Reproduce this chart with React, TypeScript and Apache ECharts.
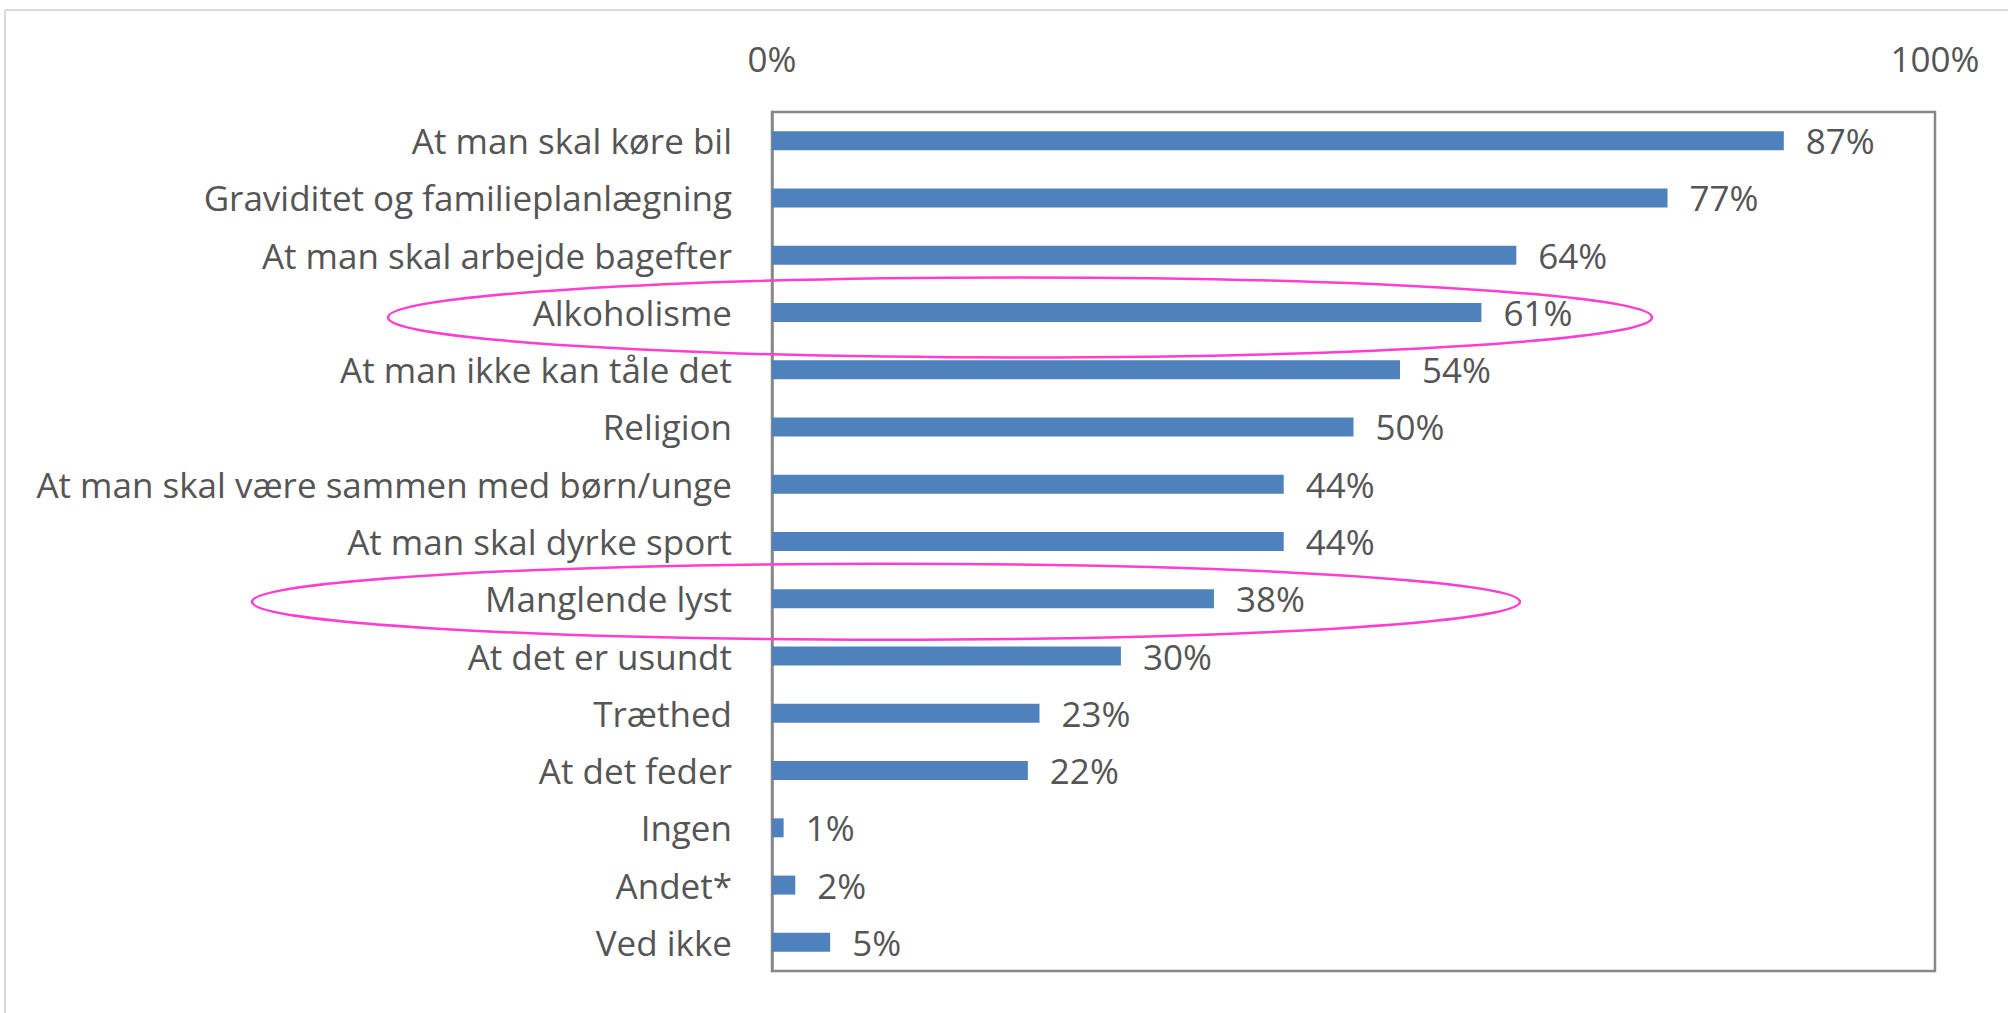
import React, { useEffect, useRef } from "react";
import * as echarts from "echarts";

const categories: string[] = [
  "At man skal køre bil",
  "Graviditet og familieplanlægning",
  "At man skal arbejde bagefter",
  "Alkoholisme",
  "At man ikke kan tåle det",
  "Religion",
  "At man skal være sammen med børn/unge",
  "At man skal dyrke sport",
  "Manglende lyst",
  "At det er usundt",
  "Træthed",
  "At det feder",
  "Ingen",
  "Andet*",
  "Ved ikke",
];

const values: number[] = [87, 77, 64, 61, 54, 50, 44, 44, 38, 30, 23, 22, 1, 2, 5];

const axisMin = 0;
const axisMax = 100;
const axisInterval = 100;

const highlighted: string[] = ["Alkoholisme", "Manglende lyst"];

const FONT = "'Open Sans', 'Noto Sans', sans-serif";
const TEXT = "#555555";
const FS = 35;

export default function App() {
  const ref = useRef<HTMLDivElement>(null);

  useEffect(() => {
    if (!ref.current) return;
    const chart = echarts.init(ref.current, undefined, { renderer: "svg" });
    chart.setOption({
      animation: false,
      backgroundColor: "#ffffff",
      textStyle: { fontFamily: FONT },
      grid: {
        left: 772,
        top: 112,
        width: 1163,
        height: 859,
        show: true,
        borderColor: "#878787",
        borderWidth: 2.5,
        outerBoundsMode: "none",
        containLabel: false,
      },
      xAxis: {
        type: "value",
        position: "top",
        min: axisMin,
        max: axisMax,
        interval: axisInterval,
        axisLine: { show: false },
        axisTick: { show: false },
        splitLine: { show: false },
        axisLabel: {
          formatter: "{value}%",
          color: TEXT,
          fontSize: FS,
          fontFamily: FONT,
          margin: 36,
        },
      },
      yAxis: {
        type: "category",
        inverse: true,
        data: categories,
        axisLine: { show: true, lineStyle: { color: "#878787", width: 2.5 } },
        axisTick: { show: false },
        splitLine: { show: false },
        axisLabel: {
          color: TEXT,
          fontSize: FS,
          fontFamily: FONT,
          margin: 40,
        },
      },
      series: [
        {
          type: "bar",
          data: values,
          barWidth: 19,
          itemStyle: { color: "#4F81BD" },
          label: {
            show: true,
            position: "right",
            distance: 22,
            formatter: "{c}%",
            color: TEXT,
            fontSize: FS,
            fontFamily: FONT,
          },
        },
      ],
    });

    const ellipseDefs = [
      { name: highlighted[0], cx: 1020, dy: 5, rx: 632, ry: 40 },
      { name: highlighted[1], cx: 886, dy: 3, rx: 634, ry: 38 },
    ];
    const ellipses = ellipseDefs.map((e) => {
      const cy = chart.convertToPixel({ yAxisIndex: 0 }, e.name) as number;
      return {
        type: "ellipse",
        shape: { cx: e.cx, cy: cy + e.dy, rx: e.rx, ry: e.ry },
        style: { fill: "none", stroke: "#FF3DD0", lineWidth: 2.5 },
        z: 100,
        silent: true,
      };
    });

    chart.setOption({
      graphic: [
        {
          type: "line",
          shape: { x1: 5, y1: 10, x2: 2008, y2: 10 },
          style: { stroke: "#dadada", lineWidth: 2 },
          silent: true,
        },
        {
          type: "line",
          shape: { x1: 5, y1: 10, x2: 5, y2: 1013 },
          style: { stroke: "#dadada", lineWidth: 2 },
          silent: true,
        },
        ...ellipses,
      ],
    });

    return () => chart.dispose();
  }, []);

  return (
    <div
      ref={ref}
      style={{ position: "fixed", left: 0, top: 0, width: 2008, height: 1013, background: "#fff" }}
    />
  );
}
